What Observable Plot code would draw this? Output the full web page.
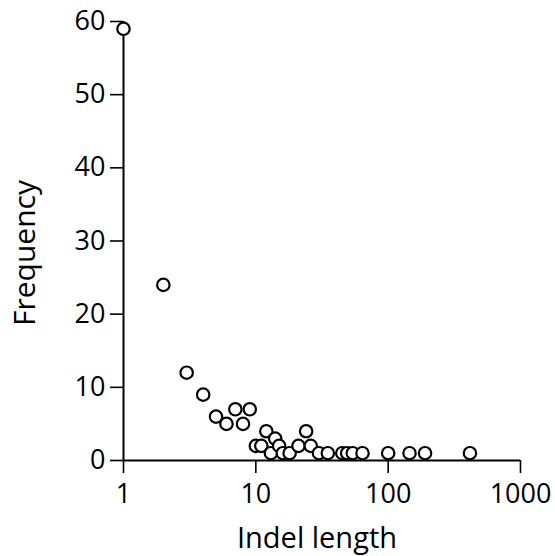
<!DOCTYPE html>
<html>
<head>
<meta charset="utf-8">
<script src="https://cdn.jsdelivr.net/npm/d3@7"></script>
<script src="https://cdn.jsdelivr.net/npm/@observablehq/plot@0.6"></script>
<style>
  html, body { margin: 0; padding: 0; background: white; }
</style>
</head>
<body>
<div id="chart"></div>
<script>
const indelLength = [1,2,3,4,5,6,7,8,9,10,11,12,13,14,15,16,18,21,24,26,30,35,45,49,54,64,100,145,190,415];
const frequency   = [59,24,12,9,6,5,7,5,7,2,2,4,1,3,2,1,1,2,4,2,1,1,1,1,1,1,1,1,1,1];
const xTicks = [1, 10, 100, 1000];
const yTicks = [0, 10, 20, 30, 40, 50, 60];
const xTitle = "Indel length";
const yTitle = "Frequency";

const data = indelLength.map((x, i) => ({x, y: frequency[i]}));

const chart = Plot.plot({
  width: 555,
  height: 556,
  marginLeft: 123,
  marginRight: 35,
  marginTop: 21,
  marginBottom: 96,
  style: {fontFamily: "'Open Sans'", fontSize: "27px", background: "white", color: "black"},
  x: {type: "log", domain: [1, 1000]},
  y: {domain: [0, 60]},
  marks: [
    Plot.axisX({ticks: xTicks, tickFormat: d => String(d), tickSize: 13, tickPadding: 10, label: null, fontSize: 27, strokeWidth: 1.6}),
    Plot.axisY({ticks: yTicks, tickSize: 13, tickPadding: 5, label: null, fontSize: 27, strokeWidth: 1.6}),
    Plot.ruleX([1], {y1: 0, y2: 60, stroke: "black", strokeWidth: 2}),
    Plot.ruleY([0], {x1: 1, x2: 1000, stroke: "black", strokeWidth: 2}),
    Plot.dot(data, {x: "x", y: "y", r: 6.2, stroke: "black", strokeWidth: 2.2, fill: "white"}),
    Plot.text([xTitle], {text: d => d, frameAnchor: "bottom", textAnchor: "middle", lineAnchor: "bottom", dy: 87, dx: -5, fontSize: 29}),
    Plot.text([yTitle], {text: d => d, frameAnchor: "left", textAnchor: "middle", lineAnchor: "bottom", rotate: -90, dx: -89, dy: 12, fontSize: 30})
  ]
});
document.getElementById("chart").appendChild(chart);
</script>
</body>
</html>
